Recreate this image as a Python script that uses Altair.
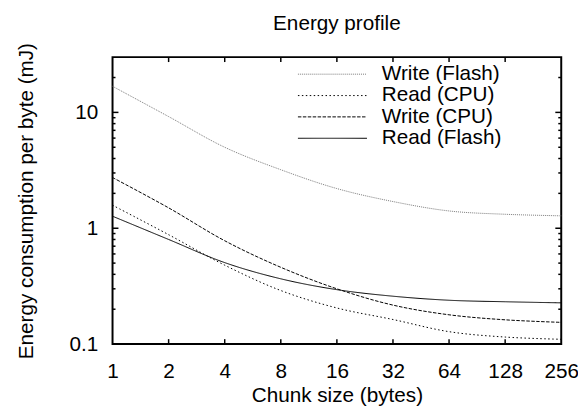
import altair as alt
import pandas as pd

# ---- data ----
chunk = [1, 2, 4, 8, 16, 32, 64, 128, 256]
series_order = ["Write (Flash)", "Read (CPU)", "Write (CPU)", "Read (Flash)"]
write_flash = [16.8, 9.2, 5.0, 3.2, 2.2, 1.7, 1.41, 1.32, 1.28]
read_cpu = [1.58, 0.88, 0.48, 0.29, 0.205, 0.163, 0.128, 0.115, 0.11]
write_cpu = [2.74, 1.5, 0.78, 0.46, 0.30, 0.217, 0.179, 0.162, 0.154]
read_flash = [1.27, 0.80, 0.505, 0.366, 0.295, 0.259, 0.239, 0.232, 0.227]

x_ticks = [2, 4, 8, 16, 32, 64, 128]
x_labels = [1, 2, 4, 8, 16, 32, 64, 128, 256]
y_major = [1, 10]
y_minor = [0.2, 0.3, 0.4, 0.5, 0.6, 0.7, 0.8, 0.9,
           2, 3, 4, 5, 6, 7, 8, 9, 20]
y_labels = [0.1, 1, 10]

colors = ["#7a7a7a", "black", "black", "black"]
dashes = [[1, 1], [1.5, 2.5], [3.5, 1.5], [1, 0]]

rows = []
for name, vals in zip(series_order, [write_flash, read_cpu, write_cpu, read_flash]):
    for c, v in zip(chunk, vals):
        rows.append({"series": name, "chunk": c, "energy": v})
df = pd.DataFrame(rows)

W, H = 455, 291
FONT = "Liberation Sans"

xscale = alt.Scale(type="log", base=2, domain=[1, 256], nice=False)
yscale = alt.Scale(type="log", domain=[0.1, 30], nice=False)

lines = alt.Chart(df).mark_line(strokeWidth=1, interpolate="catmull-rom").encode(
    x=alt.X("chunk:Q", scale=xscale,
            axis=alt.Axis(values=x_labels, format="d", title="Chunk size (bytes)",
                          grid=False, ticks=False, tickSize=0, domain=False,
                          labelFontSize=21, labelPadding=17, labelFont=FONT,
                          labelColor="black", titleFontSize=21, titleFont=FONT,
                          titleFontWeight="normal", titleColor="black", titlePadding=3,
                          labelFlush=False, labelOverlap=False)),
    y=alt.Y("energy:Q", scale=yscale,
            axis=alt.Axis(values=y_labels, format="~g",
                          title="Energy consumption per byte (mJ)",
                          grid=False, ticks=False, tickSize=0, domain=False,
                          labelFontSize=21, labelPadding=15, labelFont=FONT,
                          labelColor="black", titleFontSize=21, titleFont=FONT,
                          titleFontWeight="normal", titleColor="black", titlePadding=33,
                          labelFlush=False, labelOverlap=False)),
    color=alt.Color("series:N", scale=alt.Scale(domain=series_order, range=colors), legend=None),
    strokeDash=alt.StrokeDash("series:N", scale=alt.Scale(domain=series_order, range=dashes), legend=None),
)

xt = pd.DataFrame({"v": x_ticks})
ymaj = pd.DataFrame({"v": y_major})
ymin = pd.DataFrame({"v": y_minor})

tick_layers = []
# bottom and top x ticks
for y0, y1 in [(H, H - 5), (0, 5)]:
    tick_layers.append(alt.Chart(xt).mark_rule(color="black", strokeWidth=1.5).encode(
        x=alt.X("v:Q", scale=xscale), y=alt.value(y0), y2=alt.value(y1)))
# left/right y ticks
for d, L in [(ymaj, 6), (ymin, 3)]:
    for x0, x1 in [(0, L), (W, W - L)]:
        tick_layers.append(alt.Chart(d).mark_rule(color="black", strokeWidth=1.5).encode(
            y=alt.Y("v:Q", scale=yscale), x=alt.value(x0), x2=alt.value(x1)))

# manual legend inside the plot
legend_layers = []
row_y = [17.3, 39, 60.6, 82.3]
for name, col, dsh, ry in zip(series_order, colors, dashes, row_y):
    d = pd.DataFrame({"label": [name]})
    legend_layers.append(alt.Chart(d).mark_rule(strokeWidth=1).encode(
        x=alt.value(188), x2=alt.value(258), y=alt.value(ry),
        color=alt.value(col), strokeDash=alt.value(dsh)))
    legend_layers.append(alt.Chart(d).mark_text(
        align="left", baseline="middle", fontSize=21, font=FONT, color="black").encode(
        x=alt.value(273), y=alt.value(ry), text="label:N"))

chart = alt.layer(lines, *tick_layers, *legend_layers).properties(
    width=W, height=H,
    title=alt.TitleParams("Energy profile", fontSize=21, font=FONT, fontWeight="normal",
                          color="black", offset=9),
    autosize=alt.AutoSizeParams(type="none"),
    padding={"left": 106, "top": 47, "right": 17, "bottom": 62},
).configure_view(stroke="black", strokeWidth=2)

chart.save("out.html", embed_options={"renderer": "svg", "actions": False})
